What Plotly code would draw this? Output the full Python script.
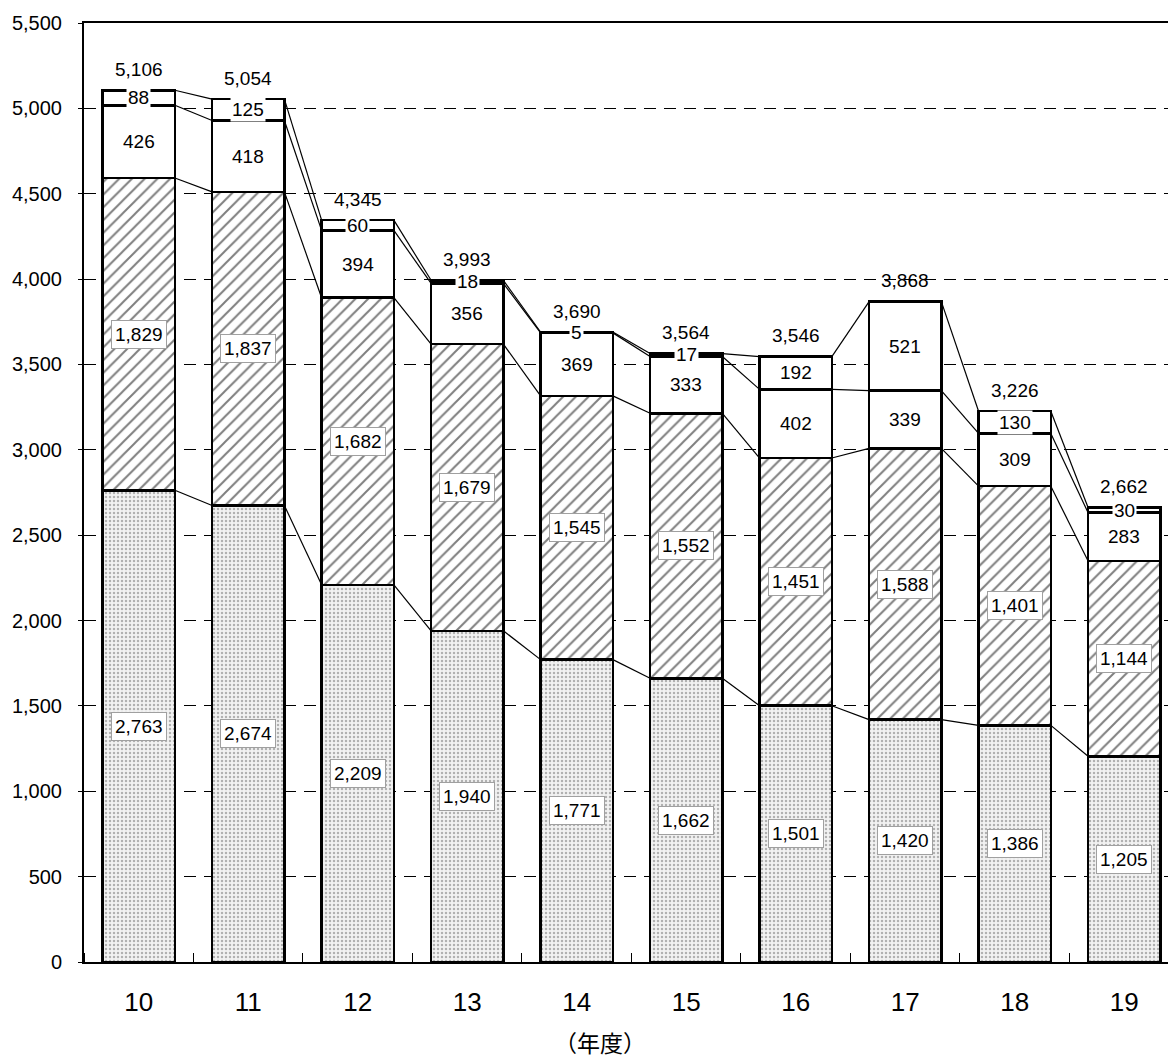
import plotly.graph_objects as go

# Fiscal years (年度) and the four stacked components
years = ["10", "11", "12", "13", "14", "15", "16", "17", "18", "19"]
base_vals = [2763, 2674, 2209, 1940, 1771, 1662, 1501, 1420, 1386, 1205]
hatch_vals = [1829, 1837, 1682, 1679, 1545, 1552, 1451, 1588, 1401, 1144]
white_vals = [426, 418, 394, 356, 369, 333, 402, 339, 309, 283]
top_vals = [88, 125, 60, 18, 5, 17, 192, 521, 130, 30]
y_ticks = [0, 500, 1000, 1500, 2000, 2500, 3000, 3500, 4000, 4500, 5000, 5500]

BAR_W = 0.66
FONT = "Liberation Sans, Arial, sans-serif"
xs = list(range(len(years)))

layers = [base_vals, hatch_vals, white_vals, top_vals]
cum = []
run = [0] * len(years)
for vals in layers:
    run = [r + v for r, v in zip(run, vals)]
    cum.append(run)
totals = cum[-1]

fig = go.Figure()
outline = dict(color="black", width=2.5)

fig.add_bar(x=xs, y=base_vals, width=BAR_W,
            marker=dict(color="#f2f2f2", line=outline,
                        pattern=dict(shape=".", size=4, solidity=0.3,
                                     fgcolor="#707070", bgcolor="#f2f2f2")))
fig.add_bar(x=xs, y=hatch_vals, width=BAR_W,
            marker=dict(color="white", line=outline,
                        pattern=dict(shape="/", size=9, solidity=0.22,
                                     fgcolor="black", bgcolor="white")))
fig.add_bar(x=xs, y=white_vals, width=BAR_W,
            marker=dict(color="white", line=outline))
fig.add_bar(x=xs, y=top_vals, width=BAR_W,
            marker=dict(color="white", line=outline))

# thin connector lines joining each stack boundary to the next bar
for level in cum:
    lx, ly = [], []
    for i in range(len(years) - 1):
        lx += [i + BAR_W / 2, i + 1 - BAR_W / 2, None]
        ly += [level[i], level[i + 1], None]
    fig.add_scatter(x=lx, y=ly, mode="lines",
                    line=dict(color="black", width=1.2), hoverinfo="skip")

annotations = []
lbl_font = dict(family=FONT, size=19, color="black")
for i in xs:
    # bottom and hatched segments: boxed labels
    for k, vals in enumerate([base_vals, hatch_vals]):
        lower = cum[k][i] - vals[i]
        annotations.append(dict(
            x=i, y=lower + vals[i] / 2, text=f"{vals[i]:,}", showarrow=False,
            font=lbl_font, bgcolor="white", bordercolor="#a0a0a0",
            borderwidth=1, borderpad=3))
    # plain white segment
    annotations.append(dict(
        x=i, y=cum[2][i] - white_vals[i] / 2, text=f"{white_vals[i]:,}",
        showarrow=False, font=lbl_font))
    # small top segment, label on white ground
    annotations.append(dict(
        x=i, y=cum[3][i] - top_vals[i] / 2, text=f"{top_vals[i]:,}",
        showarrow=False, font=lbl_font, bgcolor="white", borderpad=1))
    # total above the bar
    annotations.append(dict(
        x=i, y=totals[i], text=f"{totals[i]:,}", showarrow=False,
        font=lbl_font, yshift=21))

annotations.append(dict(
    xref="paper", yref="paper", x=0.476, y=-0.085, yanchor="middle",
    text="（年度）", showarrow=False,
    font=dict(family="Noto Sans CJK JP", size=23, color="black")))

fig.update_layout(
    width=1168, height=1062,
    margin=dict(l=84, r=0, t=23, b=100),
    barmode="stack", bargap=0.34,
    plot_bgcolor="white", paper_bgcolor="white",
    showlegend=False,
    annotations=annotations,
    font=dict(family=FONT, color="black"),
)
fig.update_xaxes(
    range=[-0.5, 9.4], tickvals=xs, ticktext=years,
    tickfont=dict(family=FONT, size=26), ticks="", ticklabelstandoff=16,
    showgrid=False, showline=True, linecolor="black", linewidth=2,
    mirror=True, zeroline=False,
    minor=dict(ticks="inside", ticklen=9, tick0=0.5, dtick=1,
               tickcolor="black", showgrid=False),
)
fig.update_yaxes(
    range=[0, 5500], tickvals=y_ticks,
    ticktext=[f"{v:,}" for v in y_ticks],
    tickfont=dict(family=FONT, size=20), ticks="outside", ticklen=4,
    tickcolor="black", ticklabelstandoff=12,
    showgrid=True, gridcolor="black", gridwidth=1.3, griddash="12px,8px",
    showline=True, linecolor="black", linewidth=2, zeroline=False,
)

fig.write_html("out.html")
